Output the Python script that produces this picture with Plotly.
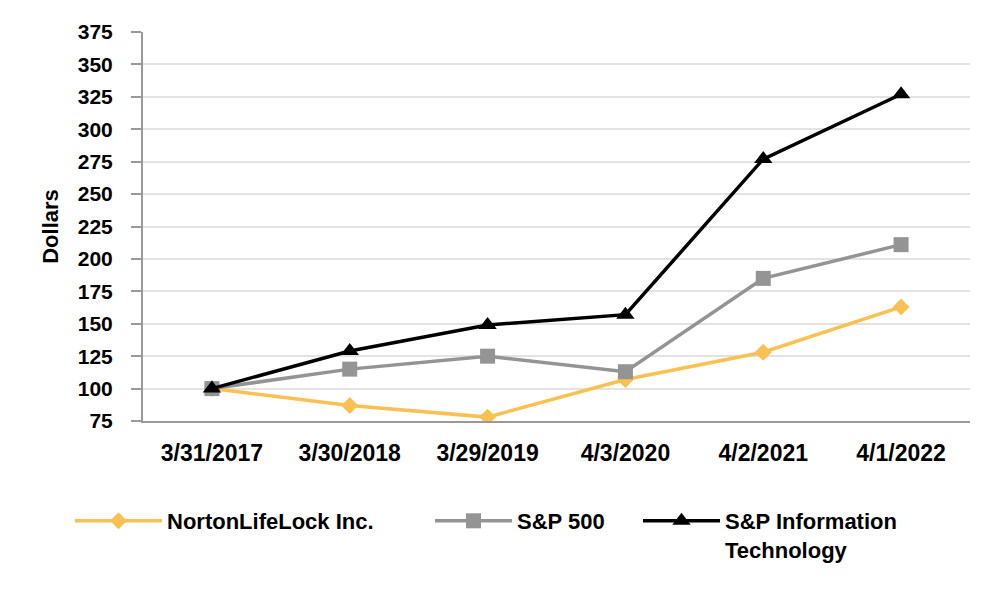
import plotly.graph_objects as go

dates = ["3/31/2017", "3/30/2018", "3/29/2019", "4/3/2020", "4/2/2021", "4/1/2022"]
norton = [100, 87, 78, 107, 128, 163]
sp500 = [100, 115, 125, 113, 185, 211]
sp_it = [100, 129, 149, 157, 277, 327]
y_ticks = [75, 100, 125, 150, 175, 200, 225, 250, 275, 300, 325, 350, 375]

FONT = "Liberation Sans, Arial, sans-serif"

fig = go.Figure()
fig.add_trace(go.Scatter(
    x=dates, y=norton, name="NortonLifeLock Inc.", mode="lines+markers",
    line=dict(color="#F9C052", width=3.5),
    marker=dict(symbol="diamond", size=13, color="#F9C052"),
    legend="legend", showlegend=True))
fig.add_trace(go.Scatter(
    x=dates, y=sp500, name="S&P 500", mode="lines+markers",
    line=dict(color="#949494", width=3.5),
    marker=dict(symbol="square", size=15, color="#949494"),
    legend="legend2", showlegend=True))
fig.add_trace(go.Scatter(
    x=dates, y=sp_it, name="S&P Information<br>Technology", mode="lines+markers",
    line=dict(color="#000000", width=3.5),
    marker=dict(symbol="triangle-up", size=16, color="#000000"),
    legend="legend3", showlegend=True))

leg_common = dict(
    orientation="h", xref="container", yref="container", yanchor="top",
    xanchor="left", valign="top", bgcolor="rgba(0,0,0,0)",
    font=dict(family=FONT, size=22, color="#000000", weight="bold"),
)

fig.update_layout(
    width=1000, height=600, showlegend=True,
    margin=dict(l=135, r=38, t=22, b=187),
    paper_bgcolor="white", plot_bgcolor="white",
    font=dict(family=FONT, color="#000000"),
    xaxis=dict(
        type="category", range=[-0.5, 5.5],
        showline=True, linecolor="#9a9a9a", linewidth=2,
        showgrid=False, ticks="", ticklabelstandoff=10,
        tickfont=dict(family=FONT, size=23, color="#000000", weight="bold"),
    ),
    yaxis=dict(
        range=[75, 375], tickvals=y_ticks,
        showline=True, linecolor="#9a9a9a", linewidth=2,
        ticks="outside", ticklen=10, tickcolor="#9a9a9a", tickwidth=2,
        ticklabelstandoff=14,
        showgrid=True, gridcolor="#e3e3e3", gridwidth=2,
        zeroline=False,
        tickfont=dict(family=FONT, size=21, color="#000000", weight="bold"),
        title=dict(text="Dollars", font=dict(family=FONT, size=22, color="#000000", weight="bold"), standoff=13),
    ),
    legend=dict(x=0.062, y=0.18, itemwidth=87, **leg_common),
    legend2=dict(x=0.422, y=0.18, itemwidth=77, **leg_common),
    legend3=dict(x=0.630, y=0.18, itemwidth=77, **leg_common),
)

fig.write_html("out.html")
